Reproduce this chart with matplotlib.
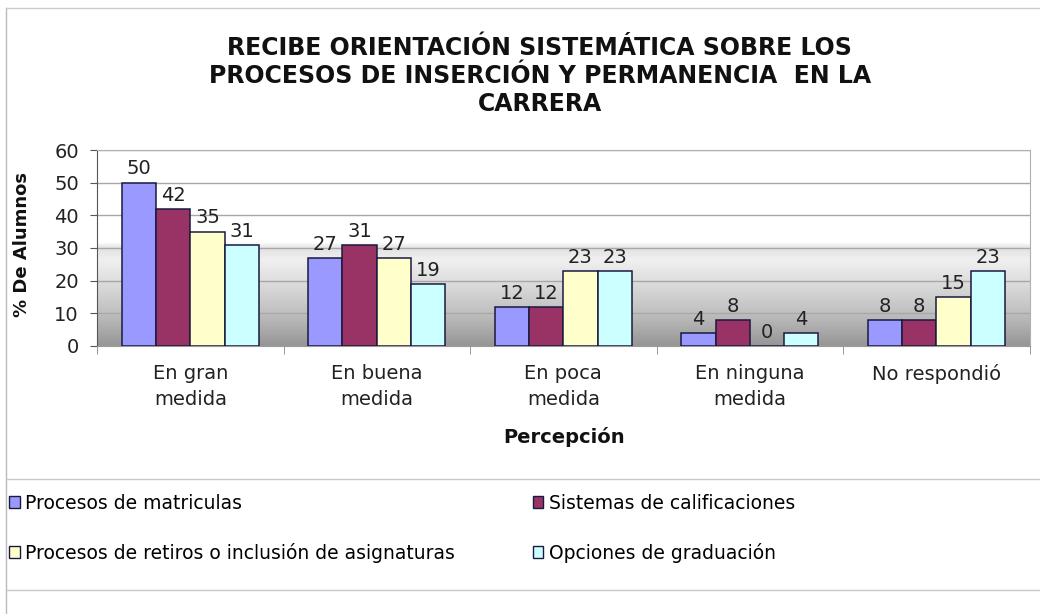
import numpy as np
import matplotlib.pyplot as plt
from matplotlib.colors import LinearSegmentedColormap
from matplotlib.lines import Line2D
from matplotlib.patches import Patch

# ---------------- data ----------------
categorias = ["En gran\nmedida", "En buena\nmedida", "En poca\nmedida",
              "En ninguna\nmedida", "No respondió"]
series = ["Procesos de matriculas", "Sistemas de calificaciones",
          "Procesos de retiros o inclusión de asignaturas", "Opciones de graduación"]
matriculas = [50, 27, 12, 4, 8]
calificaciones = [42, 31, 12, 8, 8]
retiros = [35, 27, 23, 0, 15]
graduacion = [31, 19, 23, 4, 23]
colores = ["#9999FF", "#993366", "#FFFFCC", "#CCFFFF"]

valores = [matriculas, calificaciones, retiros, graduacion]

# ---------------- figure ----------------
fig = plt.figure(figsize=(10.4, 6.14), dpi=100)
ax = fig.add_axes([0.0933, 0.4365, 0.8967, 0.3192])

# gradient background (white top, gray towards the base)
grad_cmap = LinearSegmentedColormap.from_list(
    "fondo", [(0.0, "#969696"), (0.17, "#c0c0c0"), (0.33, "#dedede"),
              (0.44, "#f0f0f0"), (0.50, "#e2e2e2"), (0.53, "#ffffff"), (1.0, "#ffffff")])
ax.imshow(np.linspace(0, 1, 300).reshape(-1, 1), origin="lower", cmap=grad_cmap,
          extent=[-0.5, 4.5, 0, 60], aspect="auto", zorder=0)

x = np.arange(len(categorias))
w = 0.184
for j, (vals, col) in enumerate(zip(valores, colores)):
    pos = x + (j - 1.5) * w
    bars = ax.bar(pos, vals, width=w, color=col, edgecolor="#1a1a40", linewidth=1.1, zorder=3)
    for b, v in zip(bars, vals):
        ax.annotate(str(v), (b.get_x() + b.get_width() / 2, v), xytext=(0, 3),
                    textcoords="offset points", ha="center", va="bottom",
                    fontsize=14, color="#222222", zorder=4)

ax.set_xlim(-0.5, 4.5)
ax.set_ylim(0, 60)
ax.set_yticks(range(0, 61, 10))
ax.yaxis.grid(True, color="#a8a8a8", linewidth=1.0, zorder=1)
ax.set_axisbelow(True)

ax.set_xticks(x)
ax.set_xticklabels(categorias, fontsize=14, linespacing=1.45, color="#222222")
ax.set_xticks(np.arange(-0.5, 4.6, 1), minor=True)
ax.tick_params(axis="x", which="major", length=0, pad=13)
ax.tick_params(axis="x", which="minor", length=6, color="#888888")
ax.tick_params(axis="y", labelsize=14, length=5, color="#555555", labelcolor="#222222", pad=8)

for s in ["top", "right"]:
    ax.spines[s].set_color("#b0b0b0")
ax.spines["bottom"].set_color("#999999")
ax.spines["left"].set_color("#555555")

# texts
fig.text(0.519, 0.876,
         "RECIBE ORIENTACIÓN SISTEMÁTICA SOBRE LOS\nPROCESOS DE INSERCIÓN Y PERMANENCIA  EN LA\nCARRERA",
         ha="center", va="center", fontsize=17, fontweight="bold", linespacing=1.2, color="#111111")
fig.text(0.021, 0.601, "% De Alumnos", rotation=90, ha="center", va="center",
         fontsize=13, fontweight="bold", color="#111111")
fig.text(0.542, 0.288, "Percepción", ha="center", va="center",
         fontsize=14, fontweight="bold", color="#111111")

# frame and separator lines
fig.add_artist(Line2D([0.006, 0.006], [0.0, 0.987], transform=fig.transFigure, color="#bbbbbb", lw=1))
fig.add_artist(Line2D([0.006, 1.0], [0.987, 0.987], transform=fig.transFigure, color="#cccccc", lw=1))
fig.add_artist(Line2D([0.006, 1.0], [0.220, 0.220], transform=fig.transFigure, color="#c8c8c8", lw=1))
fig.add_artist(Line2D([0.006, 1.0], [0.039, 0.039], transform=fig.transFigure, color="#c8c8c8", lw=1))

# legend (two columns, row order as in the original)
handles = [Patch(facecolor=c, edgecolor="#1a1a40", linewidth=1.0) for c in colores]
orden = [0, 2, 1, 3]
fig.legend([handles[i] for i in orden], [series[i] for i in orden],
           loc="upper left", bbox_to_anchor=(0.009, 0.196), ncol=2, frameon=False,
           fontsize=13.5, handlelength=0.55, handleheight=0.55, handletextpad=0.3,
           labelspacing=1.6, columnspacing=4.15, borderpad=0, borderaxespad=0)

fig.savefig("out.png", dpi=100, facecolor="white")
